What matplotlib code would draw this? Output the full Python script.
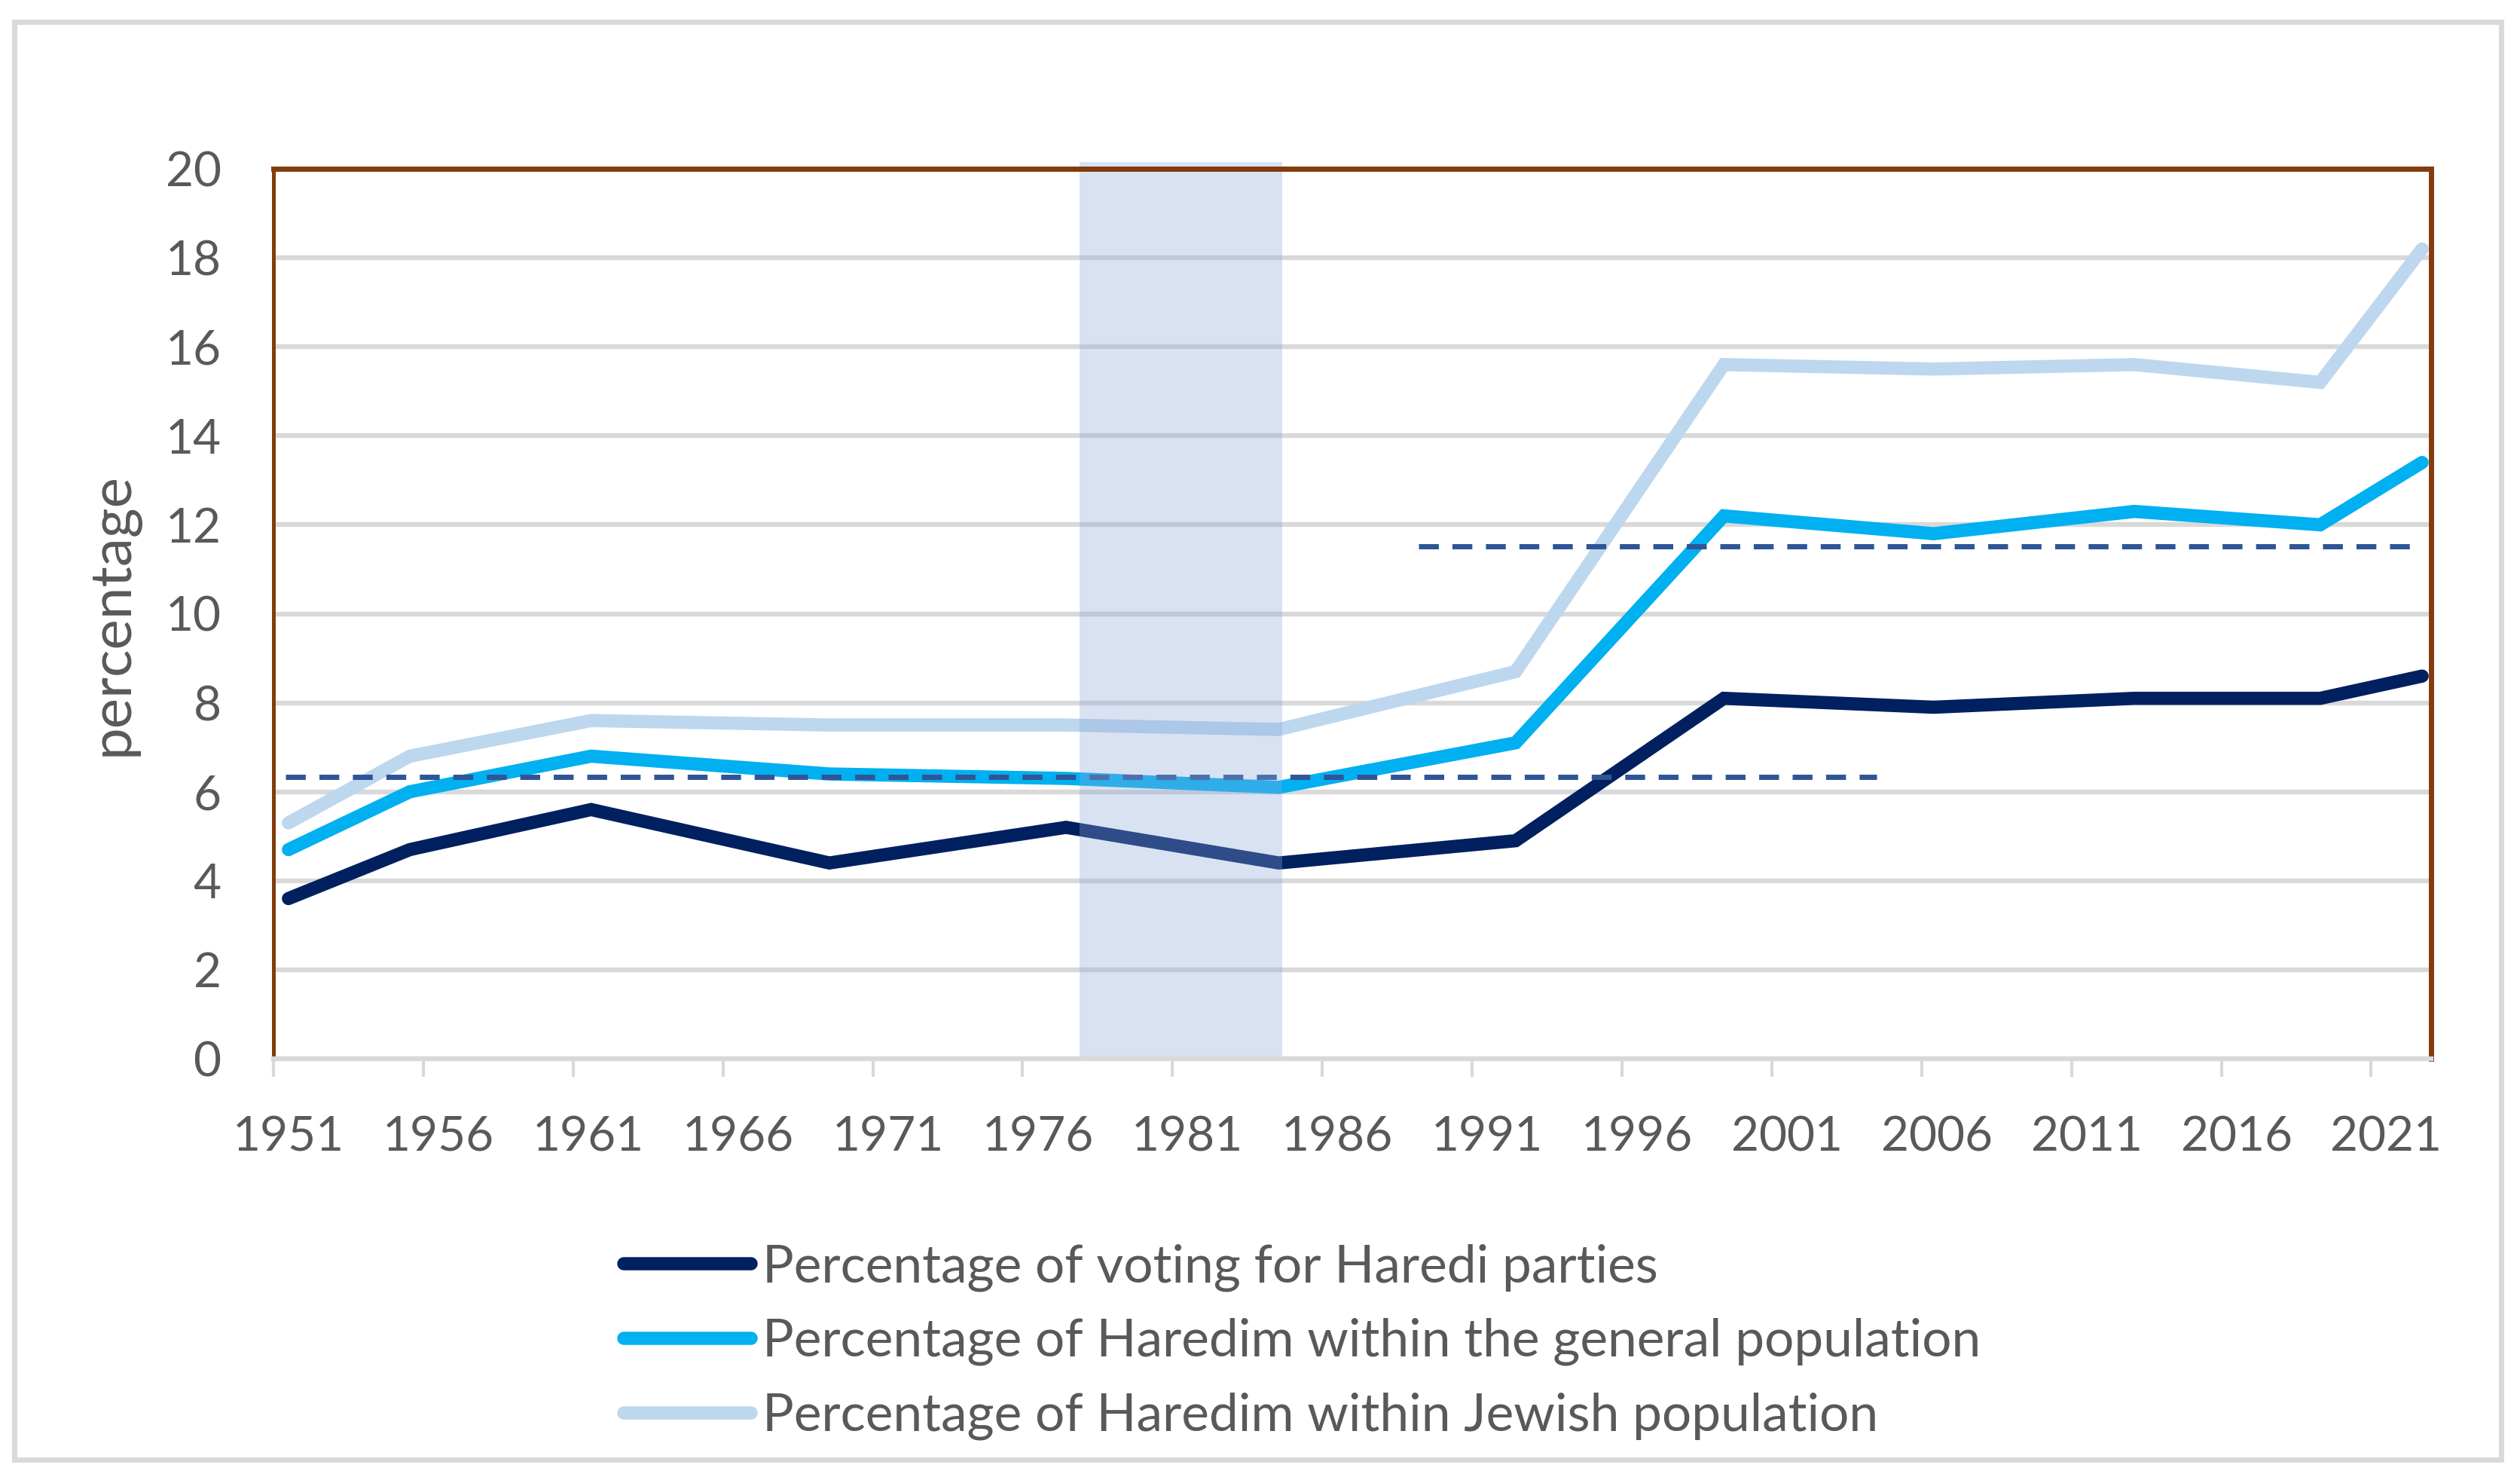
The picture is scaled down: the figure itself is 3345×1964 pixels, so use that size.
import matplotlib
matplotlib.use("Agg")
import matplotlib.pyplot as plt
from matplotlib.patches import Rectangle
from matplotlib.transforms import ScaledTranslation

plt.rcParams['font.family'] = ['Lato', 'DejaVu Sans']

# ---- data ----
election_x = [1951.5, 1955.55, 1961.6, 1969.55, 1977.45, 1984.55, 1992.45,
              1999.4, 2006.4, 2013.1, 2019.3, 2022.7]
haredi_vote = [3.6, 4.7, 5.6, 4.4, 5.2, 4.4, 4.9, 8.1, 7.9, 8.1, 8.1, 8.6]
haredim_general = [4.7, 6.0, 6.8, 6.4, 6.3, 6.1, 7.1, 12.2, 11.8, 12.3, 12.0, 13.4]
haredim_jewish = [5.3, 6.8, 7.6, 7.5, 7.5, 7.4, 8.7, 15.6, 15.5, 15.6, 15.2, 18.2]

series_labels = ["Percentage of voting for Haredi parties",
                 "Percentage of Haredim within the general population",
                 "Percentage of Haredim within Jewish population"]

mean_low_x = [1951.4, 2004.5]
mean_low_y = [6.33, 6.33]
mean_high_x = [1989.2, 2022.4]
mean_high_y = [11.52, 11.52]

shade_x = [1977.9, 1984.65]

x_ticks = list(range(1951, 2022, 5))
y_ticks = list(range(0, 21, 2))

# ---- figure ----
W, H, DPI = 3345, 1964, 200
fig = plt.figure(figsize=(W / DPI, H / DPI), dpi=DPI)
fig.patch.set_facecolor('white')

# outer frame
fig.patches.append(Rectangle((19 / W, 1 - 1937 / H), (3320 - 19) / W, (1937 - 29) / H,
                             transform=fig.transFigure, fill=False,
                             edgecolor='#D9D9D9', lw=2.5, zorder=0))

ax = fig.add_axes([363 / W, 1 - 1405 / H, (3227 - 363) / W, (1405 - 224) / H])
ax.set_xlim(1951, 2023)
ax.set_ylim(0, 20)

colors = ['#002060', '#00B0F0', '#BDD7EE']
series = [haredi_vote, haredim_general, haredim_jewish]
for ys, c, lab in zip(series, colors, series_labels):
    ax.plot(election_x, ys, color=c, lw=6.3, solid_capstyle='round',
            solid_joinstyle='miter', label=lab, zorder=3)

dash_kw = dict(color='#2F5597', lw=2.5, dashes=(3.8, 2.6), zorder=4,
               dash_capstyle='butt')
ax.plot(mean_low_x, mean_low_y, **dash_kw)
ax.plot(mean_high_x, mean_high_y, **dash_kw)

ax.fill_between(shade_x, 0, 20.15, color='#8DA8DB', alpha=0.33, lw=0,
                zorder=5, clip_on=False)

# grid and spines
ax.set_yticks(y_ticks)
ax.set_xticks(x_ticks)
ax.yaxis.grid(True, color='#D9D9D9', lw=2.3, zorder=1)
ax.xaxis.grid(False)
ax.set_axisbelow(True)
for s in ['top', 'right']:
    ax.spines[s].set_color('#843C0C')
    ax.spines[s].set_linewidth(2.5)
ax.spines['left'].set_color('#843C0C')
ax.spines['left'].set_linewidth(1.8)
ax.spines['bottom'].set_color('#D9D9D9')
ax.spines['bottom'].set_linewidth(2.3)
for s in ax.spines.values():
    s.set_zorder(6)

ax.tick_params(axis='y', length=0, pad=25, labelsize=23, labelcolor='#595959')
ax.tick_params(axis='x', length=8.6, width=1.5, color='#D9D9D9', direction='out',
               pad=18.5, labelsize=23, labelcolor='#595959')

# year labels sit slightly right of their tick marks
shift = ScaledTranslation(20 / DPI, 0, fig.dpi_scale_trans)
for lbl in ax.get_xticklabels():
    lbl.set_transform(lbl.get_transform() + shift)

fig.text(150 / W, 1 - 815 / H, 'percentage', rotation=90, ha='center', va='center',
         fontsize=27.5, color='#595959')

handles, labels = ax.get_legend_handles_labels()
leg = fig.legend(handles, labels, loc='upper left',
                 bbox_to_anchor=(828 / W, 1 - 1650 / H), frameon=False,
                 fontsize=25, labelcolor='#595959', handlelength=2.43,
                 handletextpad=0.22, labelspacing=0.51, borderpad=0,
                 borderaxespad=0)

fig.savefig('out.png', dpi=DPI, facecolor='white')
